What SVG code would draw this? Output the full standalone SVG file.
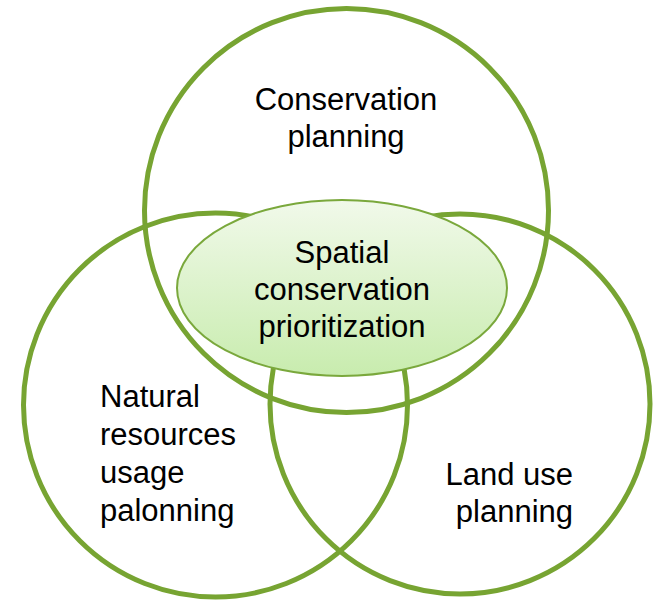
<svg xmlns="http://www.w3.org/2000/svg" width="661" height="600" viewBox="0 0 661 600">
  <style>
    .ring { fill: none; stroke: #77a432; stroke-width: 5; }
    .core { stroke: #7aa83c; stroke-width: 2; }
    text { font-family: "Liberation Sans", Arial, sans-serif; font-size: 31px; fill: #000; }
    .mid { text-anchor: middle; }
    .end { text-anchor: end; }
  </style>
  <defs>
    <linearGradient id="coreFill" x1="0" y1="0" x2="0" y2="1">
      <stop offset="0" stop-color="#f1f9ea"/>
      <stop offset="1" stop-color="#c8ecae"/>
    </linearGradient>
  </defs>
  <rect width="661" height="600" fill="#fff"/>

  <g id="conservation-planning">
    <circle class="ring" cx="346.5" cy="210.5" r="202"/>
    <text class="mid" x="346" y="110">Conservation</text>
    <text class="mid" x="346" y="147">planning</text>
  </g>

  <g id="natural-resources">
    <circle class="ring" cx="215.5" cy="405" r="192"/>
    <text x="100" y="407">Natural</text>
    <text x="100" y="445">resources</text>
    <text x="100" y="483">usage</text>
    <text x="100" y="521">palonning</text>
  </g>

  <g id="land-use">
    <circle class="ring" cx="460" cy="404" r="190"/>
    <text class="end" x="573" y="485">Land use</text>
    <text class="end" x="573" y="522">planning</text>
  </g>

  <g id="spatial-prioritization">
    <ellipse class="core" cx="342" cy="288" rx="165" ry="88" fill="url(#coreFill)"/>
    <text class="mid" x="342" y="263">Spatial</text>
    <text class="mid" x="342" y="300">conservation</text>
    <text class="mid" x="342" y="337">prioritization</text>
  </g>

  <g id="connectors"/>
</svg>
